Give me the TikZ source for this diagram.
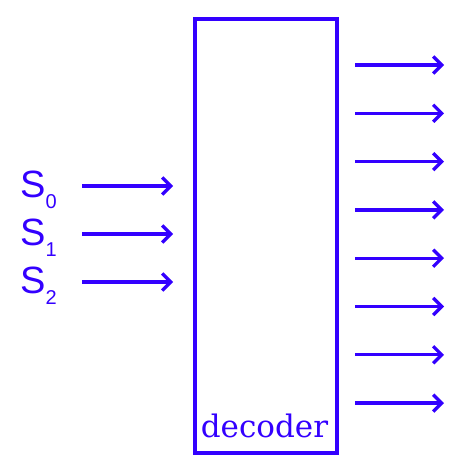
\documentclass[tikz,border=0pt]{standalone}
\usepackage{fontspec}
\setmainfont{Liberation Sans}
\newfontfamily\decfont{DejaVu Serif}
\usetikzlibrary{arrows.meta}
\definecolor{sigblue}{RGB}{51,0,255}
\begin{document}
\begin{tikzpicture}[x=1pt,y=-1pt,
  sig/.style={draw=sigblue,line width=3.3pt,-{Straight Barb[length=8.5pt,width=17pt,line width=3.3pt]}},
  lbl/.style={text=sigblue,anchor=base west,inner sep=0pt,font=\fontsize{38}{38}\selectfont}]
\useasboundingbox (0,0) rectangle (470,470);
\node[draw=sigblue,line width=3.5pt,minimum width=142pt,minimum height=433.5pt,inner sep=0pt,anchor=north west] (dec) at (193,17.5) {};
\node[text=sigblue,anchor=base,inner sep=0pt,font=\decfont\fontsize{31}{31}\selectfont] (dl) at (264.5,437) {decoder};
\foreach \i/\y in {0/186,1/234,2/282}{
  \node[lbl] (s\i) at (20,\y+11) {S\raisebox{-11pt}{\fontsize{20}{20}\selectfont \i}};
  \coordinate (ia\i) at (82,\y);
  \coordinate (ib\i) at (173,\y);
  \draw[sig] (ia\i) -- (ib\i);
}
\foreach \i in {0,...,7}{
  \pgfmathsetmacro{\yy}{65+48.3*\i}
  \coordinate (oa\i) at (355,\yy);
  \coordinate (ob\i) at (444,\yy);
  \draw[sig] (oa\i) -- (ob\i);
}
\end{tikzpicture}
\end{document}
